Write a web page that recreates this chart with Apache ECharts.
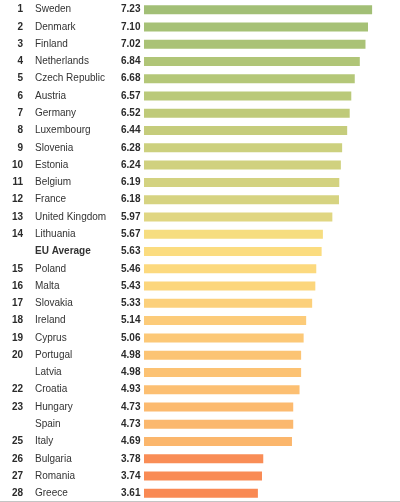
<!DOCTYPE html>
<html>
<head>
<meta charset="utf-8">
<script src="https://cdn.jsdelivr.net/npm/echarts@6/dist/echarts.min.js"></script>
<style>
html,body{margin:0;padding:0;background:#ffffff;}
#chart{width:400px;height:502px;}
</style>
</head>
<body>
<div id="chart"></div>
<script>
var ranks = ['1','2','3','4','5','6','7','8','9','10','11','12','13','14','','15','16','17','18','19','20','','22','23','','25','26','27','28'];
var countries = ['Sweden','Denmark','Finland','Netherlands','Czech Republic','Austria','Germany','Luxembourg','Slovenia','Estonia','Belgium','France','United Kingdom','Lithuania','EU Average','Poland','Malta','Slovakia','Ireland','Cyprus','Portugal','Latvia','Croatia','Hungary','Spain','Italy','Bulgaria','Romania','Greece'];
var values = [7.23,7.10,7.02,6.84,6.68,6.57,6.52,6.44,6.28,6.24,6.19,6.18,5.97,5.67,5.63,5.46,5.43,5.33,5.14,5.06,4.98,4.98,4.93,4.73,4.73,4.69,3.78,3.74,3.61];
var barColors = ['#a2bf76','#a6c176','#aac276','#b0c577','#b4c778','#bac97a','#bfca79','#c5cc7b','#ccd07e','#d0d17f','#d3d280','#d6d381','#e0d682','#f6dd80','#fbdc7f','#fcd97e','#fcd67c','#fcd07b','#fccb79','#fcc877','#fcc474','#fcc273','#fcbf72','#fcba6f','#fbb86e','#fbb66c','#f98d56','#f98b55','#f98953'];

var chart = echarts.init(document.getElementById('chart'));
var nameFont = '"Liberation Sans Narrow","Liberation Sans",Arial,sans-serif';
var numFont = '"Liberation Sans",Arial,sans-serif';

chart.setOption({
  backgroundColor: '#ffffff',
  animation: false,
  grid: { left: 144, right: 3.6, top: 1, height: 503, containLabel: false },
  xAxis: {
    type: 'value', min: 0, max: 8, show: false
  },
  yAxis: [{
    type: 'category',
    inverse: true,
    data: countries,
    axisLine: { show: false },
    axisTick: { show: false },
    splitLine: { show: false },
    axisLabel: {
      interval: 0,
      margin: 3,
      formatter: function (val, idx) {
        var nameKey = val === 'EU Average' ? 'nb' : 'n';
        return '{' + nameKey + '|' + val + '}{v|' + values[idx].toFixed(2) + '}';
      },
      rich: {
        n: { width: 86, align: 'left', fontFamily: nameFont, fontSize: 10, color: '#333333' },
        nb: { width: 86, align: 'left', fontFamily: nameFont, fontWeight: 'bold', fontSize: 10, color: '#333333' },
        v: { width: 20, align: 'left', fontFamily: numFont, fontWeight: 'bold', fontSize: 10, color: '#2b2b2b' }
      }
    }
  }, {
    type: 'category',
    position: 'left',
    inverse: true,
    data: countries,
    axisLine: { show: false },
    axisTick: { show: false },
    splitLine: { show: false },
    axisLabel: {
      interval: 0,
      margin: 121,
      fontFamily: numFont,
      fontWeight: 'bold',
      fontSize: 10,
      color: '#2b2b2b',
      align: 'right',
      formatter: function (val, idx) {
        return ranks[idx];
      }
    }
  }],
  series: [{
    type: 'bar',
    yAxisIndex: 0,
    barWidth: 9,
    data: values.map(function (v, i) {
      return { value: v, itemStyle: { color: barColors[i] } };
    })
  }],
  graphic: [{
    type: 'line',
    shape: { x1: 0, y1: 501.5, x2: 400, y2: 501.5 },
    style: { stroke: '#c4c4c4', lineWidth: 1 }
  }]
});
</script>
</body>
</html>
